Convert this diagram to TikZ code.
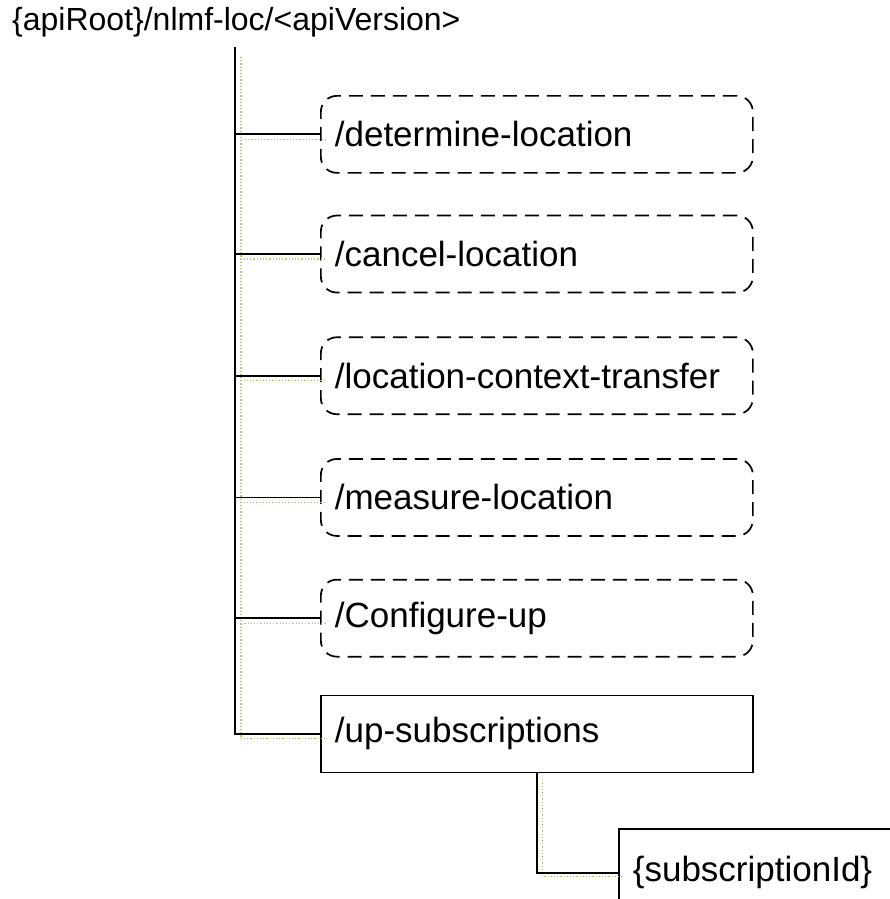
\documentclass[tikz,border=0pt]{standalone}
\usepackage{fontspec}
\setmainfont{Liberation Sans}
\usepackage{xcolor}
\usetikzlibrary{positioning}
\definecolor{wire}{HTML}{000000}
\definecolor{guide}{HTML}{B4C07A}
\tikzset{
  ResBox/.style={
    draw=wire, line width=1.7pt,
    minimum width=432pt, minimum height=77pt,
    text width=404pt, align=left, inner xsep=14pt,
    font=\fontsize{35}{40}\selectfont
  },
  OptBox/.style={
    ResBox, rounded corners=16pt,
    dash pattern=on 14pt off 8pt
  },
  Link/.style={draw=wire, line width=1.8pt},
  Guide/.style={draw=guide, line width=1.2pt, dotted}
}

\begin{document}
\begin{tikzpicture}[x=1pt, y=-1pt, node distance=42pt]
  \clip (0,0) rectangle (890,899);
  \useasboundingbox (0,0) rectangle (890,899);

  % root of the resource tree
  \node[anchor=west, inner sep=0pt, font=\fontsize{32}{38}\selectfont]
    (root) at (12,22) {\{apiRoot\}/nlmf-loc/<apiVersion>};
  \coordinate (trunk) at (235,47);

  % custom operations
  \node[OptBox, anchor=north west] (determine) at (320,95) {/determine-location};
  \node[OptBox, below=41pt of determine] (cancel) {/cancel-location};
  \node[OptBox, below=43pt of cancel] (transfer) {/location-context-transfer};
  \node[OptBox, below=43pt of transfer] (measure) {/measure-location};
  \node[OptBox, below=of measure] (configure) {/Configure-up};

  % collection and its member
  \node[ResBox, below=37pt of configure] (upsubs) {/up-subscriptions};
  \node[ResBox, anchor=north west, minimum width=400pt, minimum height=88pt,
        text width=372pt] (subid) at (618,828) {\{subscriptionId\}};

  % faint offset guides
  \foreach \res in {determine,cancel,transfer,measure,configure,upsubs}
    \draw[Guide] ([shift={(6,10)}]trunk) |- ([shift={(6,5)}]\res.west);
  \draw[Guide] ([shift={(6,6)}]upsubs.south) |- ([shift={(6,4)}]subid.west);

  % tree connectors
  \foreach \res in {determine,cancel,transfer,measure,configure,upsubs}
    \draw[Link] (trunk) |- (\res.west);
  \draw[Link] (upsubs.south) |- (subid.west);
\end{tikzpicture}
\end{document}
